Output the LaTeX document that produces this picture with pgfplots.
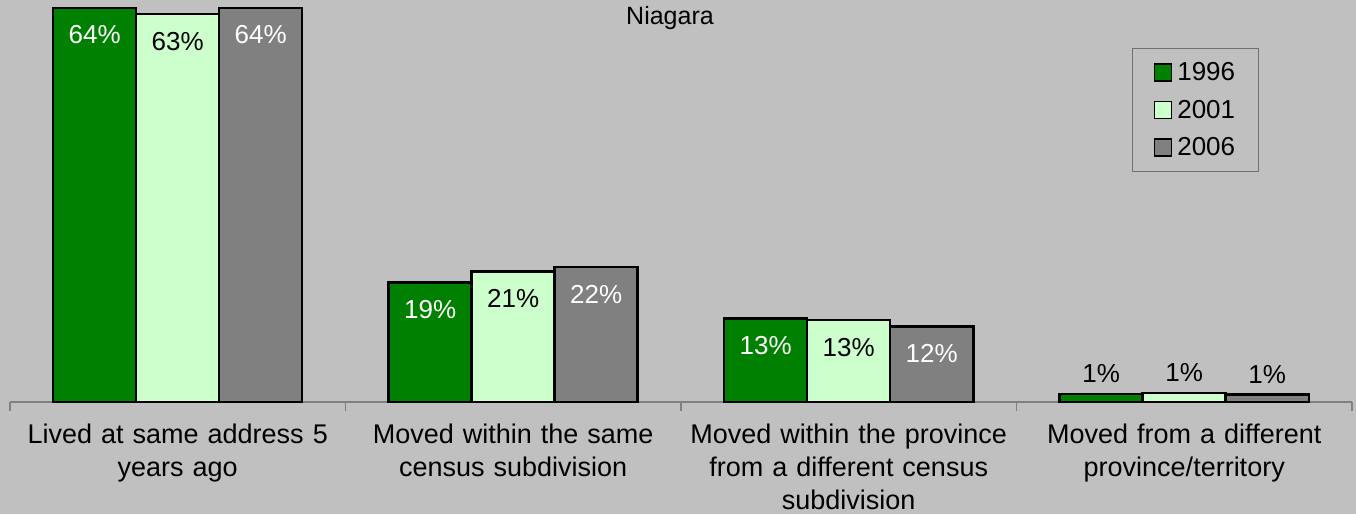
\documentclass[border=0pt]{standalone}
\usepackage{pgfplots}
\pgfplotsset{compat=1.18}
\usepackage{fontspec}
\setmainfont{Liberation Sans}
\definecolor{bgc}{HTML}{C0C0C0}
\definecolor{cA}{HTML}{008000}
\definecolor{cB}{HTML}{CCFFCC}
\definecolor{cC}{HTML}{808080}
\definecolor{axc}{HTML}{808080}
\definecolor{legc}{HTML}{707070}
\begin{document}
\begin{tikzpicture}
\useasboundingbox (0,0) rectangle (1356pt,514pt);
\fill[bgc] (0,0) rectangle (1356pt,514pt);
\begin{axis}[
 at={(10pt,112pt)}, anchor=south west,
 scale only axis, width=1342pt, height=402pt,
 ybar=0pt, bar width=83pt,
 xmin=-0.5, xmax=3.5, ymin=0, ymax=65.3,
 axis x line*=bottom, axis y line=none,
 x axis line style={draw=axc, line width=1.2pt},
 xtick={0,1,2,3},
 xticklabels={{Lived at same address 5\\years ago},{Moved within the same\\census subdivision},{Moved within the province\\from a different census\\subdivision},{Moved from a different\\province/territory}},
 major tick length=0pt,
 extra x ticks={-0.5,0.5,1.5,2.5,3.5},
 extra x tick labels={},
 extra x tick style={major tick length=9pt, tick align=outside, tick style={draw=axc, line width=1.2pt}},
 xticklabel style={font=\fontsize{27}{33}\selectfont, align=center, text width=340pt, yshift=-18pt},
 clip=false,
 point meta=explicit symbolic,
 nodes near coords,
 visualization depends on={y \as \rawy},
 nodes near coords style={font=\fontsize{26}{30}\selectfont, anchor=center, yshift={(\rawy<5) ? 20 : -27}},
 legend style={at={(0.836,0.881)}, anchor=north west, draw=legc, line width=1.2pt, fill=bgc,
   font=\fontsize{26}{30}\selectfont, row sep=14pt, inner xsep=21pt, inner ysep=12pt,
   /tikz/every odd column/.append style={column sep=3pt}},
 legend cell align=left,
 mylegend/.style={legend image code/.code={\draw[##1, line width=1.8pt] (0pt,-8.5pt) rectangle (17pt,8.5pt);}},
]
\addplot[fill=cA, draw=black, line width=2.5pt, mylegend, every node near coord/.append style={text=white}]
 coordinates {(0,64.0)[64\%] (1,19.4)[19\%] (2,13.6)[13\%] (3,1.3)[\color{black}1\%]};
\addplot[fill=cB, draw=black, line width=2.5pt, mylegend, every node near coord/.append style={text=black}]
 coordinates {(0,63.0)[63\%] (1,21.2)[21\%] (2,13.3)[13\%] (3,1.5)[1\%]};
\addplot[fill=cC, draw=black, line width=2.5pt, mylegend, every node near coord/.append style={text=white}]
 coordinates {(0,64.0)[64\%] (1,21.9)[22\%] (2,12.3)[12\%] (3,1.2)[\color{black}1\%]};
\legend{1996,2001,2006}
\end{axis}
\node[font=\fontsize{25}{30}\selectfont] at (670pt,496pt) {Niagara};
\end{tikzpicture}
\end{document}
